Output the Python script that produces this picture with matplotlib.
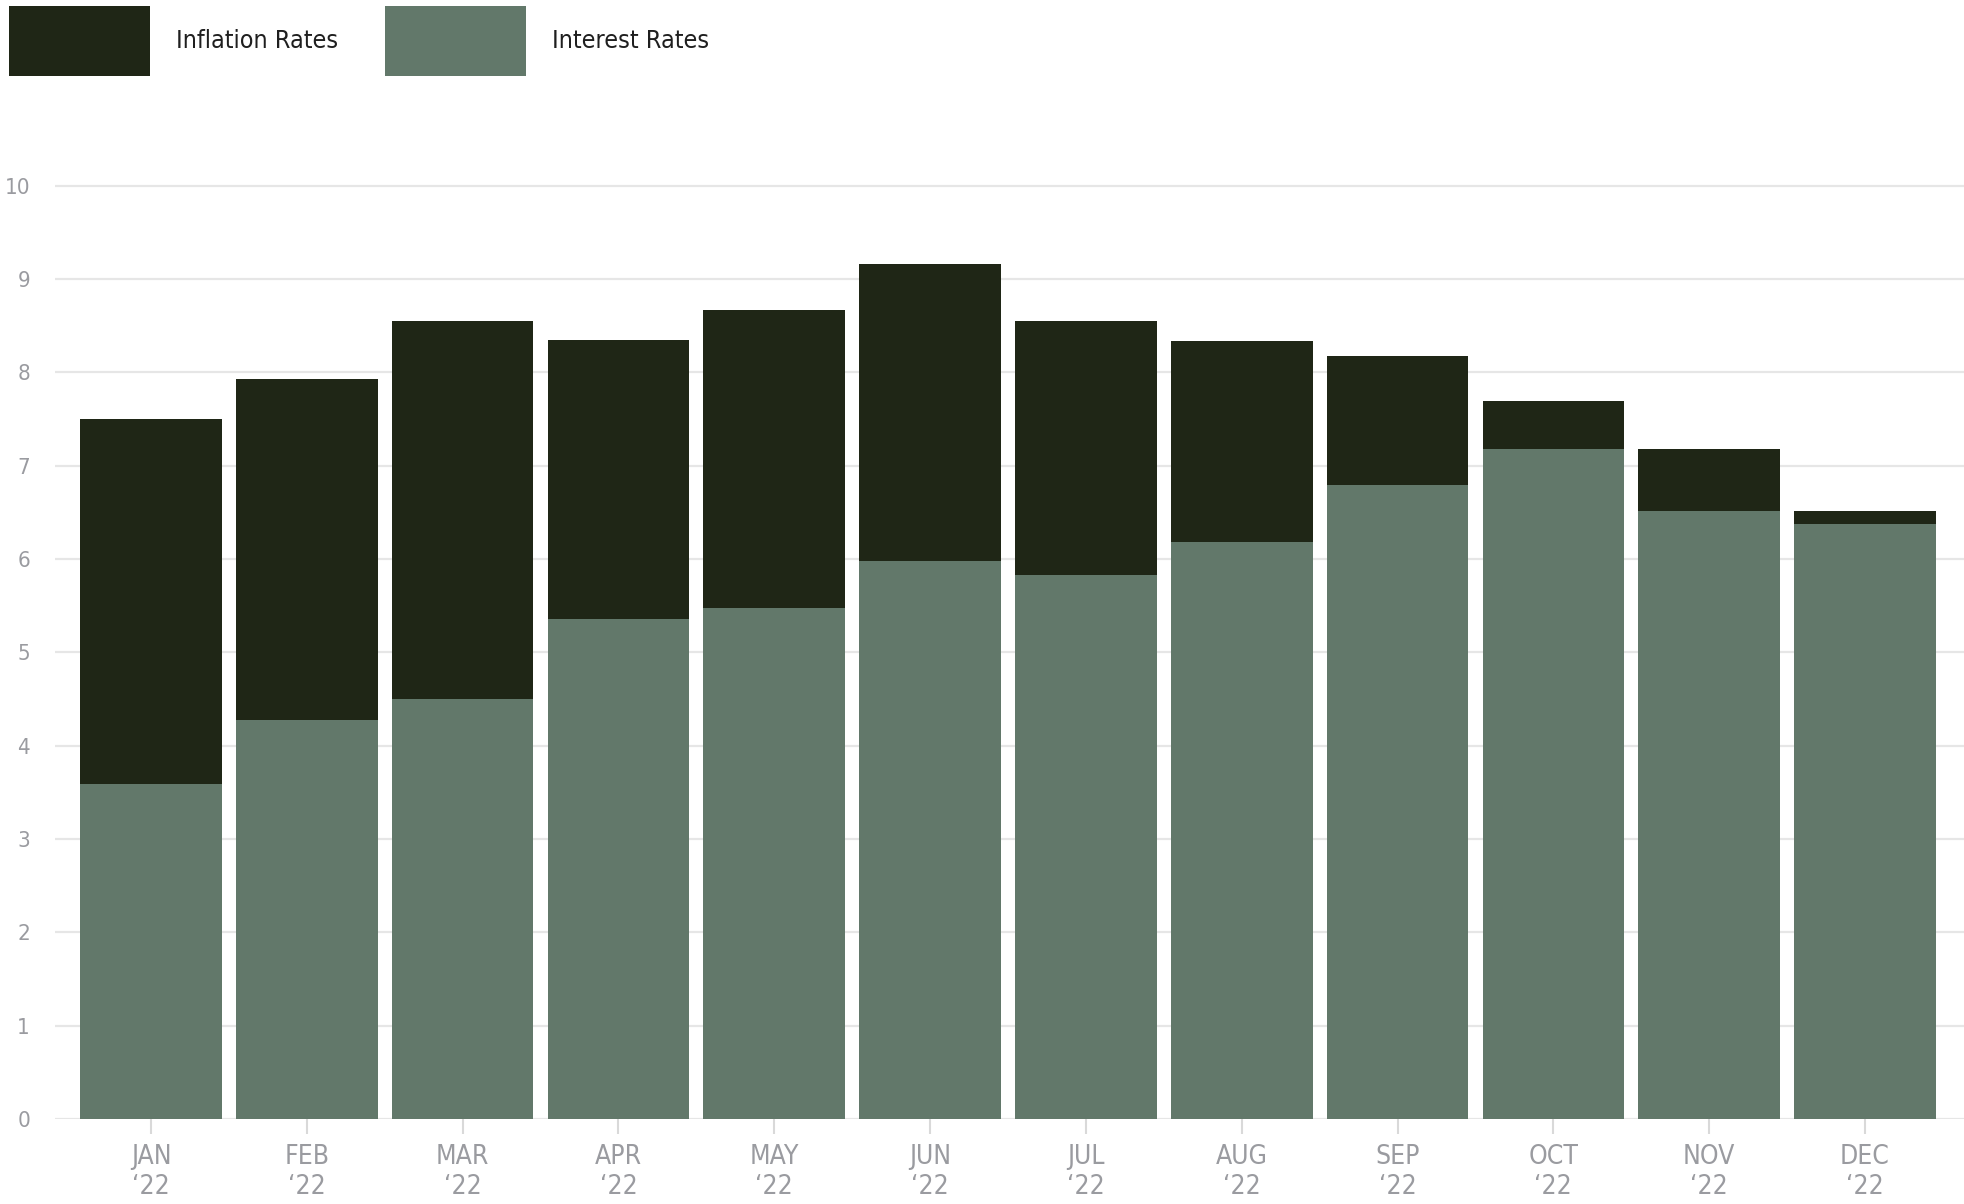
import matplotlib
matplotlib.use("Agg")
import matplotlib.pyplot as plt
import numpy as np

# monthly rates for 2022
months = ["JAN", "FEB", "MAR", "APR", "MAY", "JUN", "JUL", "AUG", "SEP", "OCT", "NOV", "DEC"]
year_label = "\u201822"
inflation_rates = [7.50, 7.93, 8.55, 8.35, 8.67, 9.16, 8.55, 8.34, 8.17, 7.69, 7.18, 6.51]
interest_rates = [3.59, 4.28, 4.50, 5.36, 5.48, 5.98, 5.83, 6.18, 6.79, 7.18, 6.51, 6.37]

DARK = "#1f2616"
SAGE = "#62786a"
GRID = "#e6e6e6"
TICK_TXT = "#9a9ba0"

# condensed face of DejaVu for the narrow lettering
plt.rcParams["font.family"] = ["DejaVu Sans"]
plt.rcParams["font.stretch"] = "condensed"

fig = plt.figure(figsize=(19.65, 12.04), dpi=100)
ax = fig.add_axes([0.028, 0.0706, 0.972, 0.7907])

x = np.arange(len(months))
w = 0.909
# inflation behind, interest in front (overlapping, not stacked)
ax.bar(x, inflation_rates, width=w, color=DARK, label="Inflation Rates", zorder=2)
ax.bar(x, interest_rates, width=w, color=SAGE, label="Interest Rates", zorder=3)

ax.set_xlim(-0.616, 11.642)
ax.set_ylim(0, 10.2)
ax.set_yticks(range(0, 11))
ax.yaxis.grid(True, color=GRID, linewidth=1.6, zorder=0)
ax.set_axisbelow(True)
for s in ax.spines.values():
    s.set_visible(False)

ax.set_xticks(x)
ax.set_xticklabels([f"{m}\n{year_label}" for m in months], linespacing=1.2)
ax.tick_params(axis="x", length=11, width=1.5, color="#d9d9d9", pad=7,
               labelsize=19, labelcolor=TICK_TXT)
ax.tick_params(axis="y", length=0, pad=18, labelsize=16, labelcolor=TICK_TXT)

leg = fig.legend(loc="upper left", bbox_to_anchor=(9 / 1965, 1 - 6 / 1204),
                 ncol=2, frameon=False, fontsize=18, borderpad=0, borderaxespad=0,
                 handlelength=5.64, handleheight=3.94, handletextpad=1.05,
                 columnspacing=1.85)
for t in leg.get_texts():
    t.set_color("#1f1f1f")

fig.savefig("out.png", dpi=100, facecolor="white")
